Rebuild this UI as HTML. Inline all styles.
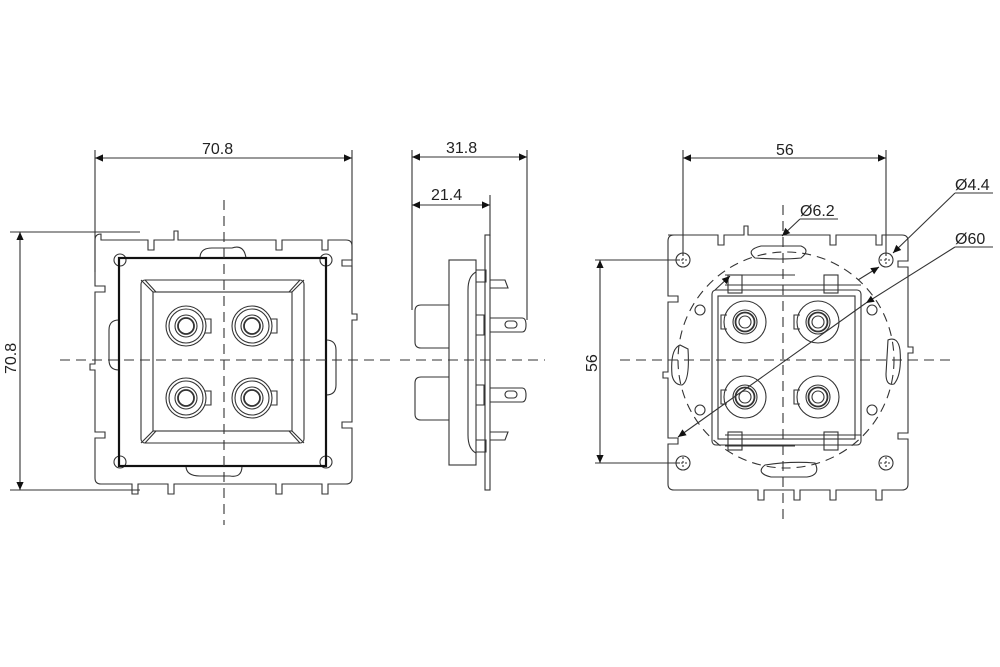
<!DOCTYPE html>
<html><head><meta charset="utf-8"><style>
html,body{margin:0;padding:0;background:#fff;}
svg{display:block}
text{font-family:"Liberation Sans",sans-serif;font-size:16px;fill:#222}
</style></head><body>
<svg width="1000" height="667" viewBox="0 0 1000 667" xmlns="http://www.w3.org/2000/svg">
<defs>
<marker id="a" viewBox="0 0 10 10" refX="10" refY="5" markerWidth="22" markerHeight="8" orient="auto-start-reverse" markerUnits="userSpaceOnUse"><path d="M0,0.5 L10,5 L0,9.5z" fill="#111"/></marker>
</defs>
<g fill="none" stroke="#333" stroke-width="1.1">
<!-- ===== LEFT VIEW ===== -->
<path d="M101,240 h47 v10 h6 v-10 h20 v-9 h4 v9 h98 v10 h6 v-10 h40 v10 h6 v-10 h18 q6,0 6,6 v14 h-10 v6 h10 v48 h5 v6 h-5 v102 h-10 v6 h10 v50 q0,6 -6,6 h-18 v10 h-6 v-10 h-40 v10 h-6 v-10 h-102 v10 h-6 v-10 h-30 v10 h-6 v-10 h-31 q-6,0 -6,-6 v-40 h10 v-6 h-10 v-62 h-5 v-6 h5 v-72 h10 v-6 h-10 v-46 q0,-6 6,-6 z"/>
<path d="M200,258 q0,-10 12,-10 h20 q12,-4 14,10 M186,466 q0,10 14,10 h30 q12,2 12,-10 M119,320 q-10,0 -10,10 v30 q0,10 10,10 M326,340 q10,0 10,10 v35 q0,10 -10,10"/>
<circle cx="120" cy="260" r="6"/><circle cx="326" cy="260" r="6"/><circle cx="120" cy="462" r="6"/><circle cx="326" cy="462" r="6"/>
<rect x="119" y="258" width="207" height="208" stroke-width="2.2" stroke="#111"/>
<rect x="141" y="280" width="163" height="163" rx="4"/>
<rect x="153" y="292" width="139" height="139"/>
<path d="M141,280 L153,292 M304,280 L292,292 M141,443 L153,431 M304,443 L292,431 M145,280 L156,292 M300,280 L289,292 M145,443 L156,431 M300,443 L289,431"/>
<g id="jl">
<circle cx="186" cy="326" r="20"/><circle cx="186" cy="326" r="17"/><circle cx="186" cy="326" r="11"/><circle cx="186" cy="326" r="8" stroke-width="1.8"/>
<path d="M205,319 h6 v14 h-6"/>
</g>
<use href="#jl" x="66"/><use href="#jl" y="72"/><use href="#jl" x="66" y="72"/>
<path d="M224,200 V525 M60,360 H395" stroke-dasharray="10,6"/>
<path d="M95,150 V272 M352,150 V290 M10,232 H140 M10,490 H140"/>
<path d="M95,158 H352" marker-start="url(#a)" marker-end="url(#a)"/>
<path d="M20,232 V490" marker-start="url(#a)" marker-end="url(#a)"/>

<!-- ===== SIDE VIEW ===== -->
<rect x="449" y="260" width="27" height="205"/>
<path d="M476,272 q-8,4 -8,18 v145 q0,14 8,18"/>
<path d="M449,305 h-28 q-6,0 -6,6 v31 q0,6 6,6 h28 M449,377 h-28 q-6,0 -6,6 v31 q0,6 6,6 h28"/>
<rect x="485" y="235" width="5" height="255"/>
<path d="M490,318 h32 q4,0 4,7 q0,7 -4,7 h-32 M490,388 h32 q4,0 4,7 q0,7 -4,7 h-32"/>
<rect x="505" y="321" width="12" height="7" rx="3.5"/><rect x="505" y="391" width="12" height="7" rx="3.5"/>
<path d="M490,280 h15 l3,8 h-18 M490,440 h15 l3,-8 h-18 M476,270 h10 v12 h-10 M476,440 h10 v12 h-10 M476,315 h8 v20 h-8 M476,385 h8 v20 h-8"/>
<path d="M400,360 H545" stroke-dasharray="10,6"/>
<path d="M412,150 V310 M527,150 V320 M490,195 V236"/>
<path d="M412,157 H527" marker-start="url(#a)" marker-end="url(#a)"/>
<path d="M412,205 H490" marker-start="url(#a)" marker-end="url(#a)"/>

<!-- ===== RIGHT VIEW ===== -->
<path d="M668,235 h50 v10 h6 v-10 h20 v-9 h4 v9 h82 v10 h6 v-10 h40 v10 h6 v-10 h20 q6,0 6,6 v20 h-10 v6 h10 v80 h5 v6 h-5 v80 h-10 v6 h10 v45 q0,6 -6,6 h-20 v10 h-6 v-10 h-40 v10 h-6 v-10 h-30 v10 h-6 v-10 h-30 v10 h-6 v-10 h-84 q-6,0 -6,-6 v-40 h10 v-6 h-10 v-60 h-5 v-6 h5 v-70 h10 v-6 h-10 v-55 q0,-6 6,-6 z"/>
<circle cx="786" cy="360" r="108" stroke-dasharray="9,6"/>
<rect x="712" y="290" width="149" height="155" rx="4"/>
<rect x="718" y="296" width="137" height="143"/>
<path d="M725,275 h70 M725,285 h136 M725,435 h136 M725,446 h70"/>
<rect x="728" y="275" width="14" height="18"/><rect x="824" y="275" width="14" height="18"/>
<rect x="728" y="432" width="14" height="18"/><rect x="824" y="432" width="14" height="18"/>
<path d="M755,258 q-10,-8 6,-12 h40 q10,4 0,12 q-20,2 -46,0z M765,465 q-10,8 6,12 h36 q14,-2 8,-14 q-24,-2 -50,2z M680,345 q-10,4 -8,30 q2,10 10,10 q8,-4 6,-36z M888,340 q10,-4 12,10 q2,25 -6,34 q-8,2 -8,-10z"/>
<circle cx="700" cy="310" r="5"/><circle cx="872" cy="310" r="5"/><circle cx="700" cy="410" r="5"/><circle cx="872" cy="410" r="5"/>
<g id="jr">
<circle cx="745" cy="322" r="21"/><circle cx="745" cy="322" r="12"/><circle cx="745" cy="322" r="9.5" stroke-width="1.8"/><circle cx="745" cy="322" r="6"/>
<path d="M727,315 h-6 v14 h6"/>
</g>
<use href="#jr" x="73"/><use href="#jr" y="75"/><use href="#jr" x="73" y="75"/>
<g id="sh"><circle cx="683" cy="260" r="7"/><path d="M677,260 h12 M683,254 v12" stroke-dasharray="2,2"/></g>
<use href="#sh" x="203"/><use href="#sh" y="203"/><use href="#sh" x="203" y="203"/>
<path d="M620,360 H955 M783,205 V525" stroke-dasharray="10,6"/>
<path d="M683,150 V255 M886,150 V255 M595,260 H680 M595,463 H680"/>
<path d="M683,158 H886" marker-start="url(#a)" marker-end="url(#a)"/>
<path d="M600,260 V463" marker-start="url(#a)" marker-end="url(#a)"/>
<path d="M800,219 H838 M955,193 H993 M955,247 H993"/>
<path d="M800,219 L782,236" marker-end="url(#a)"/>
<path d="M715,290 L730,276" marker-end="url(#a)"/>
<path d="M955,193 L893,253" marker-end="url(#a)"/>
<path d="M858,280 L879,267" marker-end="url(#a)"/>
<path d="M955,247 L866,303" marker-end="url(#a)"/>
<path d="M866,303 L678,437" marker-end="url(#a)"/>
</g>
<text x="202" y="154">70.8</text>
<text transform="translate(16,374) rotate(-90)">70.8</text>
<text x="446" y="153">31.8</text>
<text x="431" y="200">21.4</text>
<text x="776" y="155">56</text>
<text transform="translate(597,372) rotate(-90)">56</text>
<text x="800" y="216">Ø6.2</text>
<text x="955" y="190">Ø4.4</text>
<text x="955" y="244">Ø60</text>
</svg>
</body></html>
